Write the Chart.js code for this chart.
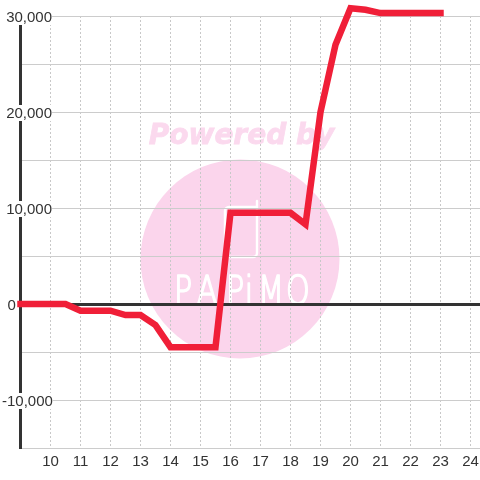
<!DOCTYPE html>
<html><head><meta charset="utf-8">
<style>html,body{margin:0;padding:0;background:#fff}#w{position:relative;width:480px;height:480px}</style>
<script src="https://cdn.jsdelivr.net/npm/chart.js@4"></script>
</head><body><div id="w"><canvas id="c" width="480" height="480"></canvas></div>
<script>
const hours=[9,9.5,10,10.5,11,11.5,12,12.5,13,13.5,14,14.5,15,15.5,16,16.5,17,17.5,18,18.5,19,19.5,20,20.5,21,21.5,22,22.5,23];
const values=[0,0,0,0,-700,-700,-700,-1150,-1150,-2200,-4500,-4500,-4500,-4500,9500,9500,9500,9500,9500,8300,20000,27000,30800,30650,30300,30300,30300,30300,30300];
const yLabelValues=[-10000,0,10000,20000,30000];
const watermarkTitle='Powered by';
const watermarkBrand=['P','A','P','i','M','O'];
const FONT='"Liberation Sans",Arial,sans-serif';
const wm={id:'wm',beforeDraw(ch){
 const c=ch.ctx;c.save();
 c.fillStyle='#fff';c.fillRect(0,0,480,480);
 c.fillStyle='#fbd5ec';c.beginPath();c.arc(240,259,99.5,0,Math.PI*2);c.fill();
 c.font='italic bold 28px "DejaVu Sans"';c.textAlign='center';c.textBaseline='alphabetic';
 c.fillStyle='#fbd9ee';c.strokeStyle='#fbd9ee';c.lineWidth=0.8;
 c.fillText(watermarkTitle,241.5,144);c.strokeText(watermarkTitle,241.5,144);
 c.strokeStyle='#fff';c.lineWidth=2.4;c.lineJoin='round';c.lineCap='round';
 c.beginPath();c.moveTo(257,201);c.lineTo(257,253);c.arcTo(257,257,253,257,4);c.lineTo(229,257);c.arcTo(225,257,225,253,4);c.lineTo(225,211);c.arcTo(225,207,229,207,4);c.lineTo(257,207);c.stroke();
 c.fillStyle='#fff';c.textAlign='center';
 c.font='200 42px "DejaVu Sans"';
 const xs=[183,207,235,249,271,298];
 watermarkBrand.forEach((l,i)=>{c.save();c.translate(xs[i],304);c.scale(0.72,0.95);c.fillText(l,0,0);c.strokeStyle='#fff';c.lineWidth=1.8;c.strokeText(l,0,0);c.restore();});
 c.restore();
}};
new Chart(document.getElementById('c'),{
 type:'line',
 data:{datasets:[{data:hours.map((h,i)=>({x:h,y:values[i]})),borderColor:'#f01f38',borderWidth:6.5,borderCapStyle:'square',borderJoinStyle:'miter',pointRadius:0,tension:0,fill:false,clip:false}]},
 plugins:[wm],
 options:{responsive:false,animation:false,events:[],
  layout:{padding:{top:16,left:0,right:0,bottom:0}},
  plugins:{legend:{display:false},tooltip:{enabled:false},title:{display:false}},
  scales:{
   x:{type:'linear',min:9,max:24.317,afterFit(s){s.height=32;s.paddingLeft=0;s.paddingRight=0},
    afterBuildTicks(s){s.ticks=s.ticks.filter(t=>Number.isInteger(t.value))},
    border:{display:false,dash:[2,2]},
    grid:{drawTicks:false,color:'#c8c8c8',lineWidth:1},
    ticks:{stepSize:1,autoSkip:false,maxRotation:0,includeBounds:false,padding:5,color:'#333',font:{family:FONT,size:15},callback:v=>v===9?'':String(v)}},
   y:{type:'linear',min:-15000,max:30000,afterFit(s){s.width=20.5},
    border:{display:true,color:'#333',width:3},
    grid:{drawTicks:false,color:c=>c.tick&&c.tick.value===0?'#333':'#ccc',lineWidth:c=>c.tick&&c.tick.value===0?3:1},
    ticks:{display:false,stepSize:5000,autoSkip:false}},
   yLabels:{type:'linear',position:'left',min:-14844,max:30156,weight:5,afterFit(s){s.width=0;s.paddingTop=0;s.paddingBottom=0},
    afterBuildTicks(s){s.ticks=yLabelValues.map(v=>({value:v}))},
    border:{display:false},
    grid:{display:false,drawTicks:false},
    ticks:{autoSkip:false,mirror:true,z:1,padding:2,color:'#333',font:{family:FONT,size:15,lineHeight:1},
     showLabelBackdrop:true,backdropPadding:{top:1,bottom:0,left:1,right:0},backdropColor:'#fff',
     callback:v=>v===0?'\u00a0\u200a0':(v<0?'':'\u00a0')+v.toLocaleString('en-US')}}
  }
 }
});
</script></body></html>
